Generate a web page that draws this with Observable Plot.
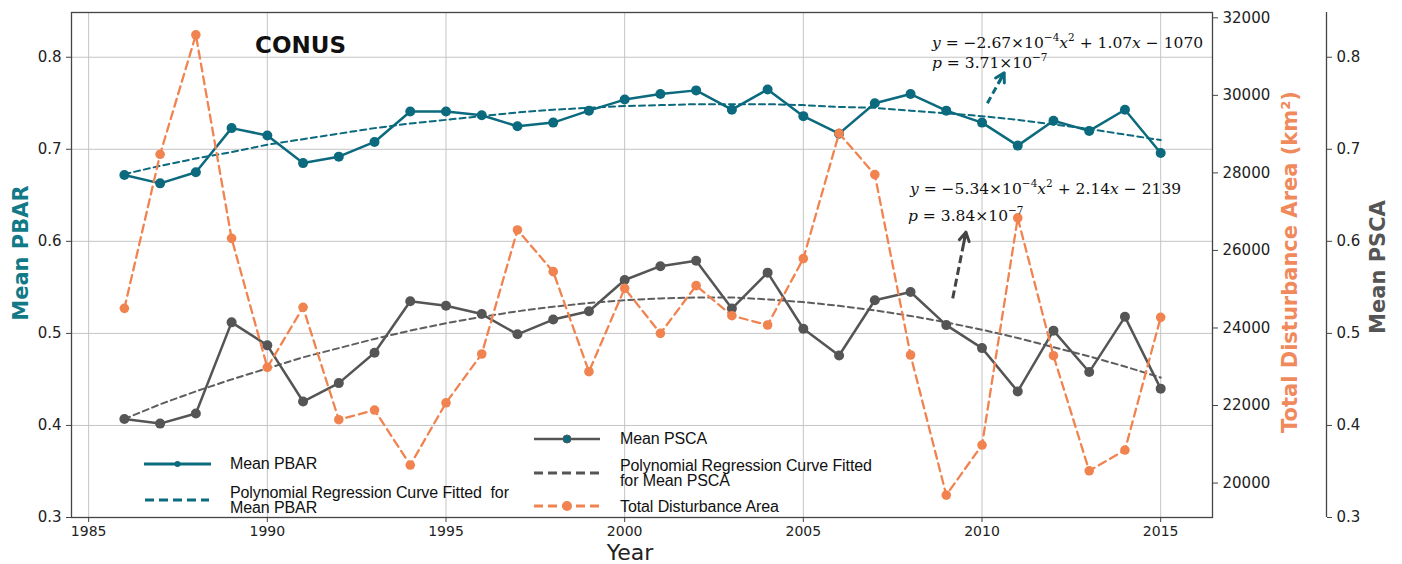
<!DOCTYPE html>
<html><head><meta charset="utf-8">
<script src="https://cdn.jsdelivr.net/npm/d3@7"></script>
<script src="https://cdn.jsdelivr.net/npm/@observablehq/plot@0.6"></script>
<style>
body{margin:0;background:#fff;}
#wrap{position:relative;width:1402px;height:564px;overflow:hidden;}
.leg{position:absolute;font-family:"Liberation Sans",sans-serif;font-size:16px;color:#111;line-height:14px;white-space:nowrap;letter-spacing:-0.1px;}
.eq{position:absolute;font-family:"DejaVu Serif",serif;font-size:15.5px;color:#111;white-space:nowrap;line-height:18px;}
.eq sup{font-size:10.5px;vertical-align:0;position:relative;top:-7px;line-height:0;}
#sw{position:absolute;left:0;top:0;pointer-events:none;}
</style></head><body><div id="wrap"></div>
<script>
// ---- data ----
const years = [1986,1987,1988,1989,1990,1991,1992,1993,1994,1995,1996,1997,1998,1999,2000,2001,2002,2003,2004,2005,2006,2007,2008,2009,2010,2011,2012,2013,2014,2015];
const pbar = [0.672,0.663,0.675,0.723,0.715,0.685,0.692,0.708,0.741,0.741,0.737,0.725,0.729,0.742,0.754,0.760,0.764,0.743,0.765,0.736,0.717,0.750,0.760,0.742,0.729,0.704,0.731,0.720,0.743,0.696];
const psca = [0.407,0.402,0.413,0.512,0.487,0.426,0.446,0.479,0.535,0.530,0.521,0.499,0.515,0.524,0.558,0.573,0.579,0.527,0.566,0.505,0.476,0.536,0.545,0.509,0.484,0.437,0.503,0.458,0.518,0.440];
const area = [24506,28480,31561,26312,22983,24532,21634,21884,20465,22070,23329,26529,25453,22872,25022,23861,25092,24317,24077,25790,29022,27956,23303,19690,20981,26839,23285,20316,20852,24274];
const pbarFit = [0.673,0.682,0.690,0.697,0.705,0.711,0.717,0.723,0.728,0.732,0.736,0.740,0.743,0.745,0.747,0.748,0.749,0.749,0.749,0.748,0.746,0.745,0.742,0.739,0.736,0.732,0.727,0.722,0.716,0.710];
const pscaFit = [0.407,0.423,0.437,0.450,0.462,0.474,0.484,0.494,0.503,0.511,0.518,0.524,0.529,0.533,0.536,0.538,0.539,0.539,0.537,0.534,0.530,0.525,0.519,0.512,0.504,0.495,0.485,0.475,0.464,0.452];
const xTicks = [1985,1990,1995,2000,2005,2010,2015];
const pbarTicks = [0.3,0.4,0.5,0.6,0.7,0.8];
const pscaTicks = [0.3,0.4,0.5,0.6,0.7,0.8];
const areaTicks = [20000,22000,24000,26000,28000,30000,32000];
// annotation arrows (shaft start, tip) in chart units
const arrowPbar = [{x1:2010.15,y1:0.750,x2:2010.62,y2:0.783}];
const arrowPsca = [{x1:2009.18,y1:0.538,x2:2009.55,y2:0.610}];

// ---- colours ----
const TEAL = "#0b6a7d", GRAY = "#555555", ORANGE = "#f0834f";

const xDomain = [1984.52, 2016.45];
const yDomain = [0.3, 0.8486];
const areaDomain = [19112, 32137];
const areaToY = d3.scaleLinear().domain(areaDomain).range(yDomain);

const rows = years.map((yr, i) => ({year: yr, pbar: pbar[i], psca: psca[i], area: areaToY(area[i]), pbarFit: pbarFit[i], pscaFit: pscaFit[i]}));

const chart = Plot.plot({
  width: 1402, height: 564,
  marginTop: 12, marginBottom: 47, marginLeft: 71, marginRight: 190,
  style: {fontFamily: "DejaVu Sans", fontSize: "15px", color: "#222", background: "white"},
  x: {domain: xDomain},
  y: {domain: yDomain},
  marks: [
    Plot.gridX(xTicks, {stroke: "#c4c4c4", strokeOpacity: 1, strokeWidth: 1}),
    Plot.gridY(pbarTicks.slice(1), {stroke: "#c4c4c4", strokeOpacity: 1, strokeWidth: 1}),
    Plot.frame({stroke: "#444", strokeWidth: 1.3}),
    Plot.axisX(xTicks, {tickSize: 5, tickPadding: 4, fontSize: 14, label: null, tickFormat: d => String(d), stroke: "#444"}),
    Plot.axisY(pbarTicks, {anchor: "left", tickSize: 5, tickPadding: 5, fontSize: 15, label: null, tickFormat: d => d.toFixed(1), stroke: "#444"}),
    Plot.axisY(areaTicks.map(t => areaToY(t)), {anchor: "right", tickSize: 5, tickPadding: 5, fontSize: 15, label: null, tickFormat: d => String(Math.round(areaToY.invert(d) / 10) * 10), stroke: "#444"}),
    Plot.ruleX([xDomain[1]], {dx: 114, stroke: "#444", strokeWidth: 1.3}),
    Plot.axisY(pscaTicks, {anchor: "right", dx: 114, tickSize: 5, tickPadding: 5, fontSize: 15, label: null, tickFormat: d => d.toFixed(1), stroke: "#444"}),
    // fitted curves
    Plot.line(rows, {x: "year", y: "pbarFit", stroke: TEAL, strokeWidth: 2, strokeDasharray: "6,4"}),
    Plot.line(rows, {x: "year", y: "pscaFit", stroke: GRAY, strokeWidth: 2, strokeDasharray: "6,4", strokeOpacity: 0.95}),
    // series
    Plot.line(rows, {x: "year", y: "pbar", stroke: TEAL, strokeWidth: 2.5}),
    Plot.dot(rows, {x: "year", y: "pbar", fill: TEAL, r: 5}),
    Plot.line(rows, {x: "year", y: "psca", stroke: GRAY, strokeWidth: 2.5}),
    Plot.dot(rows, {x: "year", y: "psca", fill: GRAY, r: 5}),
    Plot.line(rows, {x: "year", y: "area", stroke: ORANGE, strokeWidth: 2.3, strokeDasharray: "8,5"}),
    Plot.dot(rows, {x: "year", y: "area", fill: ORANGE, r: 4.8}),
    // annotation arrows: dashed shaft + solid head (head drawn with a large start inset)
    Plot.link(arrowPbar, {x1: "x1", y1: "y1", x2: "x2", y2: "y2", stroke: TEAL, strokeWidth: 3, strokeDasharray: "7,4"}),
    Plot.arrow(arrowPbar, {x1: "x1", y1: "y1", x2: "x2", y2: "y2", stroke: TEAL, strokeWidth: 3, headLength: 5, insetStart: 24}),
    Plot.link(arrowPsca, {x1: "x1", y1: "y1", x2: "x2", y2: "y2", stroke: "#444", strokeWidth: 3, strokeDasharray: "8,4"}),
    Plot.arrow(arrowPsca, {x1: "x1", y1: "y1", x2: "x2", y2: "y2", stroke: "#444", strokeWidth: 3, headLength: 5, insetStart: 56}),
    // titles
    Plot.text(["CONUS"], {frameAnchor: "top-left", textAnchor: "middle", lineAnchor: "middle", dx: 229, dy: 33, fontSize: 23, fontWeight: "bold", fill: "#111"}),
    Plot.text(["Mean PBAR"], {frameAnchor: "left", textAnchor: "middle", lineAnchor: "middle", rotate: -90, dx: -50, dy: -12, fontSize: 21, fontWeight: "bold", fill: "#127a87"}),
    Plot.text(["Total Disturbance Area (km²)"], {frameAnchor: "right", textAnchor: "middle", lineAnchor: "middle", rotate: -90, dx: 78, dy: -3, fontSize: 21, fontWeight: "bold", fill: "#f08a5d"}),
    Plot.text(["Mean PSCA"], {frameAnchor: "right", textAnchor: "middle", lineAnchor: "middle", rotate: -90, dx: 166, dy: 2, fontSize: 21, fontWeight: "bold", fill: GRAY}),
    Plot.text(["Year"], {frameAnchor: "bottom", textAnchor: "middle", lineAnchor: "middle", dx: -12, dy: 35, fontSize: 22, fill: "#222"})
  ]
});

const wrap = document.getElementById("wrap");
wrap.appendChild(chart);

// legend swatches (inside the plot, like the original)
const sw = d3.select(wrap).append("svg").attr("id", "sw").attr("width", 1402).attr("height", 564);
const legItems = [
  {x1:144, x2:211, y:464, stroke:TEAL, dash:null, w:3, dot:TEAL, r:3},
  {x1:145, x2:209, y:500, stroke:TEAL, dash:"9,5", w:3, dot:null},
  {x1:534, x2:600, y:439, stroke:GRAY, dash:null, w:2.5, dot:TEAL, r:4, dotStroke:GRAY},
  {x1:534, x2:600, y:473, stroke:GRAY, dash:"9,5", w:3, dot:null},
  {x1:534, x2:600, y:506, stroke:ORANGE, dash:"9,5", w:3, dot:ORANGE, r:5}
];
for (const it of legItems) {
  sw.append("line").attr("x1", it.x1).attr("x2", it.x2).attr("y1", it.y).attr("y2", it.y)
    .attr("stroke", it.stroke).attr("stroke-width", it.w).attr("stroke-dasharray", it.dash);
  if (it.dot) sw.append("circle").attr("cx", (it.x1 + it.x2) / 2).attr("cy", it.y).attr("r", it.r)
    .attr("fill", it.dot).attr("stroke", it.dotStroke || "none").attr("stroke-width", 1);
}
const legTexts = [
  {x:230, y:464, t:"Mean PBAR"},
  {x:230, y:493, t:"Polynomial Regression Curve Fitted&nbsp; for"},
  {x:230, y:508, t:"Mean PBAR"},
  {x:620, y:439, t:"Mean PSCA"},
  {x:620, y:466, t:"Polynomial Regression Curve Fitted"},
  {x:620, y:481, t:"for Mean PSCA"},
  {x:620, y:507, t:"Total Disturbance Area"}
];
for (const lt of legTexts) {
  const d = document.createElement("div");
  d.className = "leg"; d.innerHTML = lt.t;
  d.style.left = lt.x + "px"; d.style.top = (lt.y - 7) + "px";
  wrap.appendChild(d);
}
const eqs = [
  {x:932, y:43, h:'<i>y</i> = −2.67×10<sup>−4</sup><i>x</i><sup>2</sup> + 1.07<i>x</i> − 1070'},
  {x:932, y:63, h:'<i>p</i> = 3.71×10<sup>−7</sup>'},
  {x:910, y:189, h:'<i>y</i> = −5.34×10<sup>−4</sup><i>x</i><sup>2</sup> + 2.14<i>x</i> − 2139'},
  {x:908, y:216, h:'<i>p</i> = 3.84×10<sup>−7</sup>'}
];
for (const e of eqs) {
  const d = document.createElement("div");
  d.className = "eq"; d.innerHTML = e.h;
  d.style.left = e.x + "px"; d.style.top = (e.y - 9) + "px";
  wrap.appendChild(d);
}
</script></body></html>
